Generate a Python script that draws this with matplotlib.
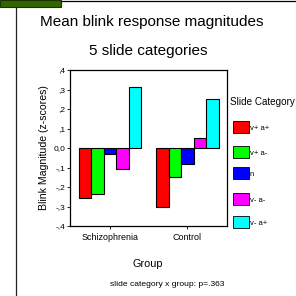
import matplotlib
matplotlib.use("Agg")
import matplotlib.pyplot as plt
from matplotlib.patches import Rectangle
from matplotlib.lines import Line2D
import numpy as np

plt.rcParams['font.family'] = ['Liberation Sans', 'DejaVu Sans']

groups = ["Schizophrenia", "Control"]
categories = ["v+ a+", "v+ a-", "n", "v- a-", "v- a+"]
colors = ["#ff0000", "#00ff00", "#0000ff", "#ff00ff", "#00ffff"]
values = {
    "v+ a+": [-0.256, -0.303],
    "v+ a-": [-0.237, -0.147],
    "n": [-0.029, -0.082],
    "v- a-": [-0.109, 0.051],
    "v- a+": [0.311, 0.251],
}
yticks = [0.4, 0.3, 0.2, 0.1, 0.0, -0.1, -0.2, -0.3, -0.4]
yticklabels = [",4", ",3", ",2", ",1", "0,0", "-,1", "-,2", "-,3", "-,4"]

W = H = 296
fig = plt.figure(figsize=(W / 100, H / 100), dpi=100)

def fx(px):
    return px / W

def fy(py):
    return 1 - py / H

ax = fig.add_axes([fx(70), fy(226), fx(227) - fx(70), fy(70) - fy(226)])
x = np.arange(len(groups))
bw = 0.161
for i, cat in enumerate(categories):
    ax.bar(x + (i - 2) * bw, values[cat], bw, color=colors[i],
           edgecolor="black", linewidth=0.8, label=cat)

ax.set_xlim(-0.516, 1.51)
ax.set_ylim(-0.4, 0.4)
ax.set_yticks(yticks)
ax.set_yticklabels(yticklabels, fontsize=6)
ax.set_xticks(x)
ax.set_xticklabels(groups, fontsize=6.4)
ax.tick_params(axis="both", length=2, width=0.6, pad=1.5)
ax.tick_params(axis="x", pad=3)
for s in ax.spines.values():
    s.set_linewidth(0.9)
ax.set_ylabel("Blink Magnitude (z-scores)", fontsize=7.6, labelpad=3)

# titles
fig.text(fx(152), fy(22), "Mean blink response magnitudes", fontsize=11,
         ha="center", va="center")
fig.text(fx(148), fy(51), "5 slide categories", fontsize=11,
         ha="center", va="center")
fig.text(fx(148), fy(264), "Group", fontsize=7.8, ha="center", va="center")
fig.text(fx(167), fy(285), "slide category x group: p=.363", fontsize=6.1,
         ha="center", va="center")

# legend (manual)
fig.text(fx(230), fy(102), "Slide Category", fontsize=7.1, ha="left", va="center")
row_y = [127, 152, 173, 198.5, 222]
for i, cat in enumerate(categories):
    fig.patches.append(Rectangle((fx(233), fy(row_y[i] + 6)), fx(16), fy(0) - fy(12),
                                 transform=fig.transFigure, facecolor=colors[i],
                                 edgecolor="black", linewidth=0.6))
    fig.text(fx(250), fy(row_y[i] + 0.5), cat, fontsize=5.5, ha="left",
             va="center_baseline")

# decoration: green block, frame lines
fig.patches.append(Rectangle((0, fy(7)), fx(61), fy(0) - fy(7),
                             transform=fig.transFigure, facecolor="#336600",
                             edgecolor="#1a3300", linewidth=0.8))
fig.lines.append(Line2D([fx(61), 1], [fy(1), fy(1)], transform=fig.transFigure,
                        color="black", linewidth=0.9))
fig.lines.append(Line2D([fx(16), fx(16)], [fy(7), 0], transform=fig.transFigure,
                        color="#222222", linewidth=0.9))

fig.savefig("out.png", dpi=100)
